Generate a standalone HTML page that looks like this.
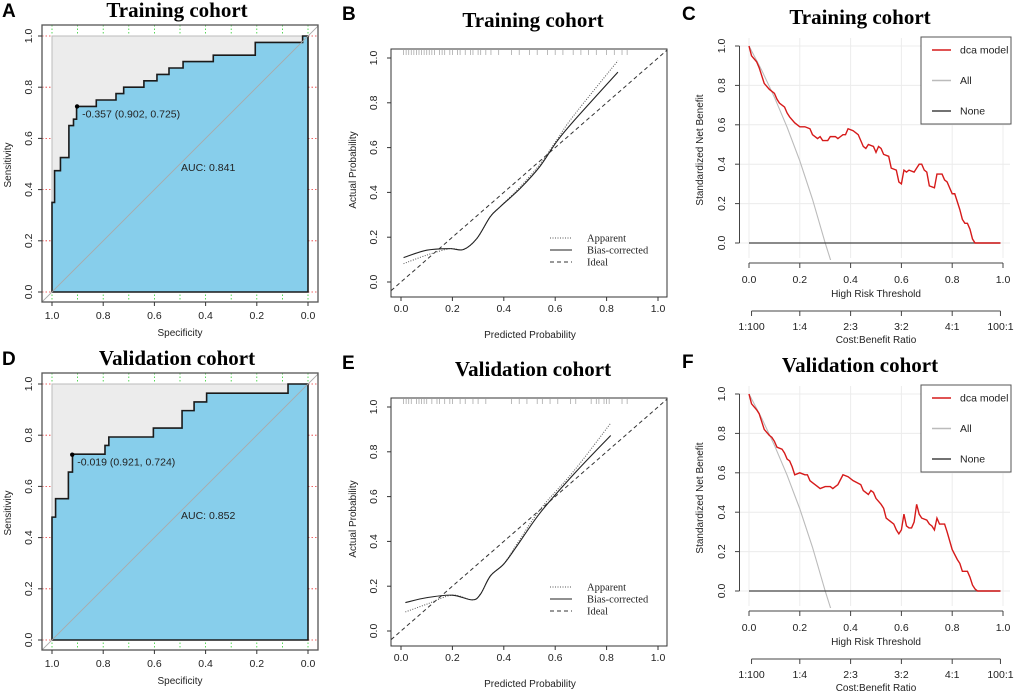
<!DOCTYPE html>
<html><head><meta charset="utf-8"><style>
html,body{margin:0;padding:0;background:#fff;}
svg{display:block;font-family:"Liberation Sans",sans-serif;}
.t{font-family:"Liberation Serif",serif;font-weight:bold;font-size:21px;fill:#000;}
.lt{font-family:"Liberation Sans",sans-serif;font-weight:bold;font-size:19px;fill:#000;}
.tk{font-size:10.5px;fill:#222;}
.ax{font-size:10px;fill:#222;}
.lg{font-family:"Liberation Serif",serif;font-size:10.5px;fill:#222;}
</style></head><body>
<svg id="fig" width="1020" height="695" viewBox="0 0 1020 695" xmlns="http://www.w3.org/2000/svg"></svg>
<script>
// ROC data (specificity, sensitivity vertices)
const rocSpecA=[1,1,0.99,0.99,0.967,0.967,0.934,0.934,0.916,0.916,0.904,0.904,0.827,0.827,0.75,0.75,0.72,0.72,0.641,0.641,0.59,0.59,0.543,0.543,0.488,0.488,0.37,0.37,0.206,0.206,0.021,0.021,0];
const rocSensA=[0,0.35,0.35,0.474,0.474,0.525,0.525,0.65,0.65,0.675,0.675,0.725,0.725,0.75,0.75,0.775,0.775,0.8,0.8,0.825,0.825,0.85,0.85,0.875,0.875,0.9,0.9,0.925,0.925,0.975,0.975,1,1];
const rocSpecD=[1,1,0.986,0.986,0.936,0.936,0.92,0.92,0.793,0.793,0.778,0.778,0.604,0.604,0.492,0.492,0.445,0.445,0.396,0.396,0.078,0.078,0];
const rocSensD=[0,0.48,0.48,0.552,0.552,0.656,0.656,0.726,0.726,0.76,0.76,0.793,0.793,0.828,0.828,0.896,0.896,0.93,0.93,0.964,0.964,1,1];
const cutA=[0.902,0.725], cutD=[0.921,0.724];
const cutLabelA="-0.357 (0.902, 0.725)", cutLabelD="-0.019 (0.921, 0.724)";
const aucA="AUC: 0.841", aucD="AUC: 0.852";
const rocXTicks=[1.0,0.8,0.6,0.4,0.2,0.0];
const unitTicks=[0,0.2,0.4,0.6,0.8,1.0];
// calibration data
const calXB=[0.01,0.1,0.19,0.243,0.295,0.347,0.386,0.464,0.54,0.606,0.67,0.844];
const calBiasB=[0.109,0.142,0.149,0.145,0.194,0.291,0.336,0.418,0.515,0.627,0.716,0.937];
const calAppB=[0.082,0.12,0.149,0.145,0.194,0.291,0.336,0.425,0.525,0.634,0.74,0.988];
const calXE=[0.017,0.101,0.199,0.277,0.309,0.348,0.4,0.452,0.543,0.673,0.816];
const calBiasE=[0.127,0.149,0.16,0.139,0.164,0.246,0.299,0.381,0.53,0.701,0.873];
const calAppE=[0.085,0.12,0.16,0.139,0.164,0.246,0.3,0.39,0.545,0.715,0.928];
const rugB=[0.01,0.02,0.03,0.04,0.05,0.06,0.07,0.08,0.09,0.1,0.11,0.12,0.13,0.15,0.16,0.17,0.19,0.2,0.22,0.23,0.25,0.27,0.28,0.3,0.31,0.33,0.35,0.38,0.43,0.46,0.5,0.53,0.57,0.6,0.63,0.67,0.7,0.73,0.76,0.8,0.83,0.86,0.88];
const rugE=[0.01,0.02,0.03,0.04,0.06,0.07,0.08,0.09,0.1,0.12,0.14,0.15,0.17,0.19,0.2,0.23,0.25,0.28,0.3,0.33,0.43,0.46,0.49,0.53,0.55,0.58,0.61,0.66,0.68,0.74,0.76,0.77,0.79,0.8,0.81,0.86,0.88];
// DCA data
const dcaTC=[0,0.01,0.03,0.04,0.05,0.06,0.08,0.1,0.11,0.12,0.14,0.15,0.16,0.18,0.2,0.22,0.24,0.25,0.27,0.28,0.29,0.31,0.32,0.34,0.35,0.36,0.37,0.38,0.39,0.41,0.43,0.45,0.46,0.47,0.49,0.5,0.51,0.52,0.53,0.55,0.56,0.58,0.59,0.6,0.61,0.62,0.63,0.65,0.66,0.67,0.68,0.69,0.7,0.71,0.73,0.74,0.76,0.77,0.78,0.79,0.8,0.81,0.82,0.83,0.84,0.85,0.86,0.87,0.88,0.89,0.99];
const dcaNC=[1,0.95,0.92,0.89,0.85,0.81,0.78,0.76,0.73,0.71,0.69,0.66,0.64,0.61,0.59,0.59,0.58,0.55,0.53,0.54,0.52,0.52,0.54,0.54,0.53,0.54,0.55,0.55,0.58,0.57,0.55,0.49,0.48,0.5,0.49,0.46,0.49,0.48,0.45,0.44,0.38,0.37,0.31,0.3,0.37,0.36,0.37,0.36,0.38,0.4,0.4,0.37,0.36,0.29,0.28,0.35,0.35,0.32,0.31,0.28,0.25,0.25,0.21,0.17,0.12,0.1,0.1,0.07,0.02,0,0];
const dcaTF=[0,0.01,0.03,0.04,0.05,0.06,0.08,0.09,0.1,0.11,0.13,0.14,0.15,0.16,0.17,0.18,0.2,0.22,0.23,0.24,0.25,0.27,0.28,0.3,0.32,0.33,0.34,0.35,0.37,0.39,0.41,0.44,0.45,0.47,0.48,0.49,0.5,0.52,0.53,0.54,0.56,0.57,0.58,0.59,0.6,0.61,0.62,0.63,0.64,0.65,0.66,0.67,0.68,0.7,0.71,0.72,0.73,0.74,0.75,0.77,0.78,0.8,0.82,0.83,0.84,0.86,0.87,0.88,0.89,0.9,0.99];
const dcaNF=[1,0.95,0.92,0.9,0.86,0.82,0.79,0.78,0.76,0.73,0.72,0.7,0.67,0.66,0.63,0.59,0.6,0.59,0.59,0.56,0.55,0.53,0.52,0.53,0.53,0.52,0.53,0.54,0.59,0.58,0.56,0.54,0.51,0.49,0.51,0.5,0.47,0.44,0.42,0.37,0.35,0.34,0.31,0.29,0.31,0.39,0.33,0.32,0.32,0.35,0.44,0.39,0.37,0.36,0.34,0.33,0.31,0.37,0.34,0.34,0.3,0.21,0.16,0.14,0.1,0.1,0.07,0.03,0.01,0,0];
const allT=[0,0.05,0.1,0.15,0.2,0.25,0.3,0.322];
const allN=[1,0.877,0.74,0.588,0.417,0.222,0,-0.09];
const costLabels=["1:100","1:4","2:3","3:2","4:1","100:1"];
const costT=[0.01,0.2,0.4,0.6,0.8,0.99];

const svg=document.getElementById('fig');
const NS='http://www.w3.org/2000/svg';
function mk(tag,attrs,parent,txt){const e=document.createElementNS(NS,tag);for(const k in attrs)e.setAttribute(k,attrs[k]);if(txt!==undefined)e.textContent=txt;(parent||svg).appendChild(e);return e;}
function group(name){const g=document.createElementNS(NS,'g');


svg.appendChild(g);return g;}
function smooth(pts){let d='M'+pts[0][0]+','+pts[0][1];for(let i=0;i<pts.length-1;i++){const p0=pts[i-1]||pts[i],p1=pts[i],p2=pts[i+1],p3=pts[i+2]||p2;const c1x=p1[0]+(p2[0]-p0[0])/6,c1y=p1[1]+(p2[1]-p0[1])/6,c2x=p2[0]-(p3[0]-p1[0])/6,c2y=p2[1]-(p3[1]-p1[1])/6;d+=' C'+c1x+','+c1y+' '+c2x+','+c2y+' '+p2[0]+','+p2[1];}return d;}
function title(g,x,y,txt,letter,lx,ly){
const t=mk('text',{x:x,y:y,'text-anchor':'middle',class:'t'},g,txt);


const l=mk('text',{x:lx,y:ly,class:'lt'},g,letter);

}

function roc(dy,spec,sens,cut,cutLabel,auc,letter,ttl){
const g=group('roc-panel-'+letter.toLowerCase());
const X=s=>308-256*s, Y=v=>dy+292-256*v;
title(g,177,dy+17,ttl,letter,2,dy+17);
// grid (green vertical, red horizontal) dotted
for(let i=0;i<=10;i++){const s=i/10;const l=mk('line',{x1:X(s),x2:X(s),y1:dy+25,y2:dy+302,stroke:'#2ecc2e','stroke-width':0.8,'stroke-dasharray':'1.5,2'},g);

}
for(let i=0;i<=5;i++){const v=i/5;const l=mk('line',{x1:42,x2:318,y1:Y(v),y2:Y(v),stroke:'#e83030','stroke-width':0.8,'stroke-dasharray':'1.5,2'},g);

}
const sq=mk('rect',{x:X(1),y:Y(1),width:256,height:256,fill:'#ececec',stroke:'#bbb','stroke-width':1},g);


let pts=spec.map((s,i)=>X(s)+','+Y(sens[i]));
const poly=mk('polygon',{points:pts.join(' ')+' '+X(0)+','+Y(0),fill:'#87ceeb',stroke:'none'},g);


const ln=mk('polyline',{points:pts.join(' ')+' '+X(0)+','+Y(0)+' '+X(1)+','+Y(0),fill:'none',stroke:'#1a1a1a','stroke-width':1.6},g);


const dg=mk('line',{x1:X(1.04),y1:Y(-0.04),x2:X(-0.04),y2:Y(1.04),stroke:'#aaa','stroke-width':0.9},g);


const fr=mk('rect',{x:42,y:dy+25,width:276,height:277,fill:'none',stroke:'#555','stroke-width':1.3},g);


const dot=mk('circle',{cx:X(cut[0]),cy:Y(cut[1]),r:2.2,fill:'#000'},g);


const cl=mk('text',{x:X(cut[0])+5,y:Y(cut[1])+11,class:'tk'},g,cutLabel);


const al=mk('text',{x:X(0.5)+1,y:dy+171,class:'tk'},g,auc);


unitTicks.forEach(v=>{mk('line',{x1:38,x2:42,y1:Y(v),y2:Y(v),stroke:'#333'},g);
const t=mk('text',{x:0,y:0,class:'tk','text-anchor':'middle',transform:'translate(32,'+Y(v)+') rotate(-90)'},g,v.toFixed(1));

});
rocXTicks.forEach(s=>{mk('line',{x1:X(s),x2:X(s),y1:dy+302,y2:dy+306,stroke:'#333'},g);
const t=mk('text',{x:X(s),y:dy+319,class:'tk','text-anchor':'middle'},g,s.toFixed(1));

});
const xt=mk('text',{x:180,y:dy+336,class:'ax','text-anchor':'middle'},g,'Specificity');


const yt=mk('text',{x:0,y:0,class:'ax','text-anchor':'middle',transform:'translate(11,'+(dy+165)+') rotate(-90)'},g,'Sensitivity');

}

function cal(dy,xs,bias,app,rug,letter,ttl,tdy){
const g=group('calibration-panel-'+letter.toLowerCase());
const X=v=>401+257*v, Y=v=>dy+282-224*v;
title(g,533,dy+27+tdy,ttl,letter,342,dy+20);
const cp=mk('clipPath',{id:'cp'+letter},g);mk('rect',{x:391,y:dy+49,width:276,height:248},cp);
rug.forEach(v=>{const l=mk('line',{x1:X(v),x2:X(v),y1:dy+50,y2:dy+55,stroke:'#aaa','stroke-width':0.8},g);

});
const id=mk('line',{x1:X(-0.1),y1:Y(-0.1),x2:X(1.1),y2:Y(1.1),stroke:'#333','stroke-width':1,'stroke-dasharray':'4,3','clip-path':'url(#cp'+letter+')'},g);


const ap=mk('path',{d:smooth(xs.map((x,i)=>[X(x),Y(app[i])])),fill:'none',stroke:'#555','stroke-width':1,'stroke-dasharray':'1,1.5'},g);


const bc=mk('path',{d:smooth(xs.map((x,i)=>[X(x),Y(bias[i])])),fill:'none',stroke:'#222','stroke-width':1.1},g);


const fr=mk('rect',{x:391,y:dy+49,width:276,height:248,fill:'none',stroke:'#333','stroke-width':1},g);


unitTicks.forEach(v=>{mk('line',{x1:387,x2:391,y1:Y(v),y2:Y(v),stroke:'#333'},g);
const t=mk('text',{x:0,y:0,class:'tk','text-anchor':'middle',transform:'translate(377,'+Y(v)+') rotate(-90)'},g,v.toFixed(1));


mk('line',{x1:X(v),x2:X(v),y1:dy+297,y2:dy+301,stroke:'#333'},g);
const u=mk('text',{x:X(v),y:dy+312,class:'tk','text-anchor':'middle'},g,v.toFixed(1));

});
const xt=mk('text',{x:530,y:dy+338,class:'ax','text-anchor':'middle'},g,'Predicted Probability');


const yt=mk('text',{x:0,y:0,class:'ax','text-anchor':'middle',transform:'translate(356,'+(dy+170)+') rotate(-90)'},g,'Actual Probability');


const lg=mk('g',{},g);


[['Apparent','1,1.5','#555'],['Bias-corrected','','#222'],['Ideal','4,3','#333']].forEach((e,i)=>{const yy=dy+238+12*i;
mk('line',{x1:550,x2:572,y1:yy,y2:yy,stroke:e[2],'stroke-width':1,'stroke-dasharray':e[1]||'none'},lg);
const t=mk('text',{x:587,y:yy+3.5,class:'lg'},lg,e[0]);

});}

function dca(dy,ts,nbs,letter,ttl){
const g=group('dca-panel-'+letter.toLowerCase());
const X=v=>749+254*v, Y=v=>dy+243-197*v;
title(g,860,dy+24,ttl,letter,682,dy+20);
unitTicks.forEach(v=>{const a=mk('line',{x1:X(v),x2:X(v),y1:dy+38,y2:dy+258,stroke:'#ececec','stroke-width':1},g);


const b=mk('line',{x1:740,x2:1010,y1:Y(v),y2:Y(v),stroke:'#ececec','stroke-width':1},g);

});
const cp=mk('clipPath',{id:'dc'+letter},g);mk('rect',{x:740,y:dy+30,width:280,height:230},cp);
const al=mk('polyline',{points:allT.map((t,i)=>X(t)+','+Y(allN[i])).join(' '),fill:'none',stroke:'#bbb','stroke-width':1.1,'clip-path':'url(#dc'+letter+')'},g);


const no=mk('line',{x1:X(0),x2:X(0.99),y1:Y(0),y2:Y(0),stroke:'#444','stroke-width':1.2},g);


const m=mk('polyline',{points:ts.map((t,i)=>X(t)+','+Y(nbs[i])).join(' '),fill:'none',stroke:'#d61a1a','stroke-width':1.4},g);


mk('line',{x1:739.5,x2:739.5,y1:Y(0),y2:Y(1),stroke:'#444'},g);
unitTicks.forEach(v=>{mk('line',{x1:735,x2:739.5,y1:Y(v),y2:Y(v),stroke:'#444'},g);
const t=mk('text',{x:0,y:0,class:'tk','text-anchor':'middle',transform:'translate('+725+','+Y(v)+') rotate(-90)'},g,v.toFixed(1));


mk('line',{x1:X(v),x2:X(v),y1:dy+263,y2:dy+268,stroke:'#444'},g);
const u=mk('text',{x:X(v),y:dy+283,class:'tk','text-anchor':'middle'},g,v.toFixed(1));

});
mk('line',{x1:X(0),x2:X(1),y1:dy+263,y2:dy+263,stroke:'#444'},g);
const xt=mk('text',{x:876,y:dy+297,class:'ax','text-anchor':'middle'},g,'High Risk Threshold');


mk('line',{x1:X(costT[0]),x2:X(costT[5]),y1:dy+311,y2:dy+311,stroke:'#444'},g);
costLabels.forEach((c,i)=>{mk('line',{x1:X(costT[i]),x2:X(costT[i]),y1:dy+311,y2:dy+316,stroke:'#444'},g);
const t=mk('text',{x:X(costT[i]),y:dy+330,class:'tk','text-anchor':'middle'},g,c);

});
const ct=mk('text',{x:876,y:dy+343,class:'ax','text-anchor':'middle'},g,'Cost:Benefit Ratio');


const yt=mk('text',{x:0,y:0,class:'ax','text-anchor':'middle',transform:'translate(703,'+(dy+150)+') rotate(-90)'},g,'Standardized Net Benefit');


const lg=mk('g',{},g);


mk('rect',{x:921,y:dy+37,width:90,height:87,fill:'#fff',stroke:'#555','stroke-width':1},lg);
[['dca model','#d61a1a'],['All','#bbb'],['None','#444']].forEach((e,i)=>{const yy=dy+50+30.5*i;
mk('line',{x1:932,x2:951,y1:yy,y2:yy,stroke:e[1],'stroke-width':1.4},lg);
const t=mk('text',{x:960,y:yy+3.5,class:'tk'},lg,e[0]);

});}

roc(0,rocSpecA,rocSensA,cutA,cutLabelA,aucA,'A','Training cohort');
roc(348,rocSpecD,rocSensD,cutD,cutLabelD,aucD,'D','Validation cohort');
cal(0,calXB,calBiasB,calAppB,rugB,'B','Training cohort',0);
cal(349,calXE,calBiasE,calAppE,rugE,'E','Validation cohort',0);
dca(0,dcaTC,dcaNC,'C','Training cohort');
dca(348,dcaTF,dcaNF,'F','Validation cohort');
</script>
</body></html>
